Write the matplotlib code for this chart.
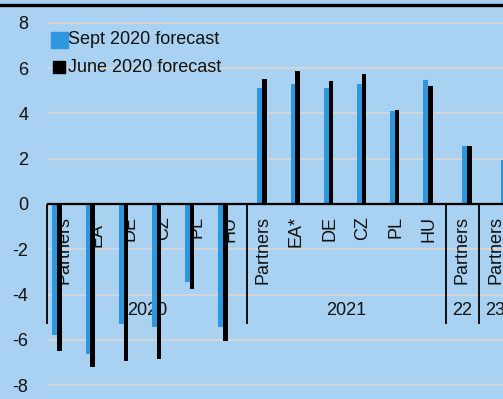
import matplotlib.pyplot as plt
from matplotlib.patches import Rectangle
import numpy as np

plt.rcParams['font.family'] = ['Liberation Sans', 'DejaVu Sans']

# multi-level category axis: year groups and the country labels inside them
years = ['2020', '2021', '22', '23']
group_labels = [
    ['Partners', 'EA*', 'DE', 'CZ', 'PL', 'HU'],
    ['Partners', 'EA*', 'DE', 'CZ', 'PL', 'HU'],
    ['Partners'],
    ['Partners'],
]

# GDP growth forecasts, %
sept_2020 = [-5.8, -6.6, -5.3, -5.45, -3.45, -5.45,
             5.13, 5.29, 5.1, 5.29, 4.1, 5.46,
             2.57, 1.94]
june_2020 = [-6.5, -7.2, -6.95, -6.85, -3.75, -6.05,
             5.5, 5.87, 5.43, 5.75, 4.13, 5.21,
             2.56, 1.9]

BG = '#a9d1f1'
BLUE = '#2f97dd'
GRID = '#d6d6d6'
W, H = 503, 399

# pixel helper -> figure fraction
def fx(px):
    return px / W

def fy(py):
    return 1 - py / H

fig = plt.figure(figsize=(W / 100, H / 100), dpi=100, facecolor=BG)

# axes geometry (pixels): y=0 at 204, 22.66 px per unit; slot width 33.2 px
y0_px, ppu = 204.0, 22.66
ylo, yhi = -8.1, 8.1
left_px = 47.3
slot_px = 33.2
ax = fig.add_axes([fx(left_px), fy(y0_px - ylo * ppu), fx(W - left_px),
                   (yhi - ylo) * ppu / H])
ax.set_facecolor(BG)
ax.set_xlim(0, (W - left_px) / slot_px)
ax.set_ylim(ylo, yhi)

# category slots and bar positions
grp = np.concatenate([[g] * len(lbls) for g, lbls in enumerate(group_labels)])
slots = np.arange(len(grp)) + 0.5
bar_x = slots - 0.2 + 0.175 * grp
bw_blue, bw_black = 0.145, 0.13

ax.bar(bar_x - bw_blue / 2, sept_2020, bw_blue, color=BLUE, zorder=3,
       linewidth=0)
ax.bar(bar_x + bw_black / 2, june_2020, bw_black, color='black', zorder=3,
       linewidth=0)

ax.axhline(0, color='black', lw=1.6, zorder=4)

ax.set_yticks(range(-8, 9, 2))
ax.set_yticklabels([str(v) for v in range(-8, 9, 2)], fontsize=13,
                   color='#111111')
ax.tick_params(axis='y', length=0, pad=13.5)
ax.set_xticks([])
ax.grid(axis='y', color=GRID, lw=1.4, zorder=1)
ax.set_axisbelow(True)
for s in ax.spines.values():
    s.set_visible(False)

# category labels (behind the bars) and group separators
i = 0
bounds = [0]
for g, lbls in enumerate(group_labels):
    for lbl in lbls:
        ax.text(slots[i], -0.53, lbl, rotation=90, ha='center', va='top',
                fontsize=13, color='#111111', zorder=2)
        i += 1
    bounds.append(i)
    centre = (bounds[-2] + bounds[-1]) / 2
    ax.text(centre, -4.68, years[g], ha='center', va='center',
            fontsize=13, color='#111111', zorder=2)
ax.vlines(bounds[:4], -5.3, 0, color='black', lw=1.3, clip_on=False, zorder=4)

# legend (drawn in pixels)
fig.patches.append(Rectangle((fx(51), fy(47.7)), fx(16.7), 16 / H,
                             transform=fig.transFigure, color=BLUE))
fig.patches.append(Rectangle((fx(53.3), fy(73.3)), fx(11.7), 12.3 / H,
                             transform=fig.transFigure, color='black'))
fig.text(fx(68.5), fy(40), 'Sept 2020 forecast', fontsize=13, va='center',
         ha='left', color='#111111')
fig.text(fx(68.5), fy(68), 'June 2020 forecast', fontsize=13, va='center',
         ha='left', color='#111111')

# top rule
fig.add_artist(plt.Line2D([0, 1], [fy(5), fy(5)], transform=fig.transFigure,
                          color='black', lw=2.4))

fig.savefig('out.png', dpi=100, facecolor=BG)
